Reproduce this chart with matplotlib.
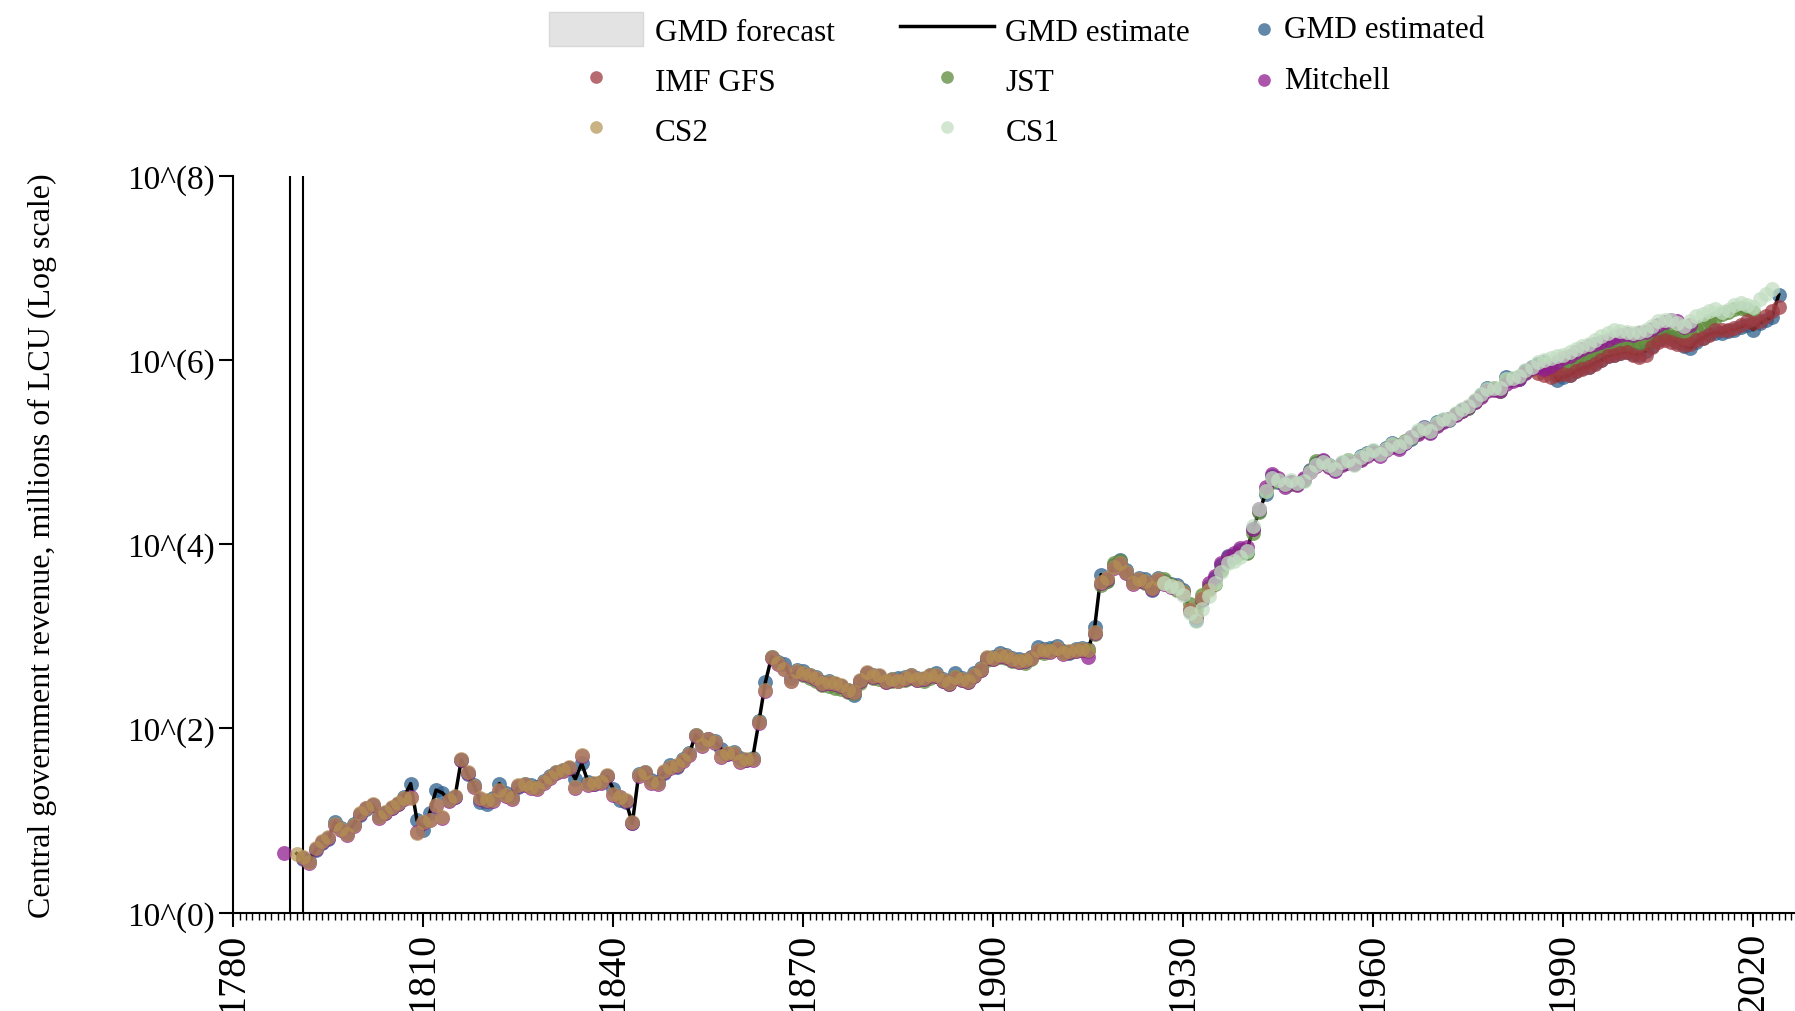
import numpy as np
import matplotlib
matplotlib.use("Agg")
import matplotlib.pyplot as plt
from matplotlib.patches import Patch
from matplotlib.ticker import NullLocator, MultipleLocator

plt.rcParams['font.family'] = ['Liberation Serif', 'DejaVu Serif']

# log10 of central government revenue (millions of LCU)
gmd_years = list(range(1790, 2025))
gmd_log = [
    0.64, 0.58, 0.56, 0.68, 0.76, 0.80, 0.98, 0.92, 0.86, 0.96,
    1.06, 1.12, 1.17, 1.05, 1.08, 1.14, 1.18, 1.26, 1.40, 1.00,
    0.90, 1.08, 1.33, 1.30, 1.22, 1.26, 1.66, 1.50, 1.38, 1.20,
    1.18, 1.24, 1.40, 1.30, 1.26, 1.36, 1.40, 1.38, 1.36, 1.43,
    1.48, 1.53, 1.55, 1.57, 1.45, 1.62, 1.42, 1.40, 1.42, 1.48,
    1.34, 1.22, 1.20, 0.97, 1.50, 1.53, 1.44, 1.42, 1.52, 1.60,
    1.58, 1.67, 1.73, 1.93, 1.84, 1.88, 1.86, 1.78, 1.72, 1.74,
    1.68, 1.66, 1.68, 2.08, 2.50, 2.78, 2.72, 2.70, 2.55, 2.63,
    2.62, 2.58, 2.56, 2.50, 2.52, 2.48, 2.46, 2.42, 2.36, 2.52,
    2.60, 2.58, 2.57, 2.52, 2.54, 2.55, 2.56, 2.58, 2.55, 2.54,
    2.58, 2.60, 2.54, 2.50, 2.60, 2.55, 2.52, 2.60, 2.66, 2.76,
    2.78, 2.82, 2.80, 2.76, 2.75, 2.74, 2.78, 2.88, 2.86, 2.87,
    2.89, 2.84, 2.82, 2.86, 2.87, 2.86, 3.10, 3.67, 3.60, 3.78,
    3.83, 3.72, 3.59, 3.63, 3.62, 3.50, 3.63, 3.60, 3.57, 3.56,
    3.50, 3.28, 3.18, 3.40, 3.52, 3.63, 3.78, 3.87, 3.88, 3.94,
    3.92, 4.17, 4.36, 4.55, 4.74, 4.68, 4.66, 4.68, 4.66, 4.70,
    4.81, 4.88, 4.90, 4.86, 4.81, 4.88, 4.90, 4.88, 4.96, 4.99,
    5.01, 4.98, 5.05, 5.10, 5.06, 5.10, 5.14, 5.22, 5.27, 5.22,
    5.33, 5.35, 5.35, 5.42, 5.46, 5.48, 5.56, 5.62, 5.70, 5.69,
    5.68, 5.82, 5.79, 5.80, 5.88, 5.92, 5.96, 5.98, 5.92, 5.78,
    5.82, 5.84, 5.88, 5.91, 5.93, 5.97, 6.00, 6.04, 6.06, 6.08,
    6.09, 6.07, 6.06, 6.10, 6.15, 6.22, 6.26, 6.24, 6.20, 6.15,
    6.13, 6.20, 6.24, 6.28, 6.30, 6.29, 6.32, 6.33, 6.36, 6.38,
    6.33, 6.40, 6.44, 6.47, 6.71,
]

est_years = gmd_years[1:]
est_log = gmd_log[1:]

cs2_years = list(range(1790, 1935))
cs2_log = [
    0.64, 0.60, 0.55, 0.70, 0.78, 0.82, 0.96, 0.91, 0.85, 0.95,
    1.08, 1.14, 1.18, 1.04, 1.09, 1.15, 1.19, 1.24, 1.24, 0.86,
    0.98, 1.00, 1.17, 1.04, 1.22, 1.27, 1.67, 1.53, 1.37, 1.24,
    1.22, 1.22, 1.33, 1.28, 1.24, 1.38, 1.40, 1.36, 1.35, 1.42,
    1.47, 1.53, 1.55, 1.58, 1.36, 1.71, 1.40, 1.41, 1.42, 1.49,
    1.29, 1.26, 1.22, 0.98, 1.49, 1.53, 1.42, 1.41, 1.54, 1.58,
    1.60, 1.66, 1.72, 1.93, 1.82, 1.89, 1.85, 1.70, 1.73, 1.73,
    1.65, 1.67, 1.67, 2.07, 2.42, 2.78, 2.71, 2.65, 2.52, 2.62,
    2.60, 2.58, 2.55, 2.49, 2.50, 2.49, 2.47, 2.42, 2.40, 2.53,
    2.61, 2.57, 2.58, 2.51, 2.54, 2.52, 2.55, 2.58, 2.54, 2.55,
    2.58, 2.58, 2.53, 2.49, 2.56, 2.54, 2.51, 2.58, 2.64, 2.78,
    2.76, 2.80, 2.79, 2.75, 2.73, 2.74, 2.77, 2.85, 2.85, 2.84,
    2.87, 2.82, 2.84, 2.85, 2.86, 2.85, 3.05, 3.59, 3.63, 3.75,
    3.80, 3.70, 3.58, 3.62, 3.60, 3.52, 3.62, 3.58, 3.55, 3.54,
    3.48, 3.30, 3.22, 3.42, 3.50,
]

mitchell_years = [1788] + list(range(1791, 2011))
mitchell_log = [
    0.65,
    0.59, 0.54, 0.69, 0.77, 0.81, 0.95, 0.90, 0.84, 0.94,
    1.07, 1.13, 1.17, 1.03, 1.08, 1.14, 1.18, 1.23, 1.25, 0.87,
    0.97, 1.01, 1.16, 1.03, 1.21, 1.26, 1.66, 1.52, 1.36, 1.23,
    1.21, 1.21, 1.32, 1.27, 1.23, 1.37, 1.39, 1.35, 1.34, 1.41,
    1.46, 1.52, 1.54, 1.57, 1.35, 1.70, 1.39, 1.40, 1.41, 1.48,
    1.28, 1.25, 1.21, 0.97, 1.48, 1.52, 1.41, 1.40, 1.53, 1.57,
    1.59, 1.65, 1.71, 1.92, 1.81, 1.88, 1.84, 1.69, 1.72, 1.72,
    1.64, 1.66, 1.66, 2.06, 2.41, 2.77, 2.70, 2.64, 2.51, 2.61,
    2.59, 2.57, 2.54, 2.48, 2.49, 2.48, 2.46, 2.41, 2.39, 2.52,
    2.60, 2.56, 2.57, 2.50, 2.53, 2.51, 2.54, 2.57, 2.53, 2.54,
    2.57, 2.57, 2.52, 2.48, 2.55, 2.53, 2.50, 2.57, 2.63, 2.77,
    2.75, 2.79, 2.78, 2.74, 2.72, 2.73, 2.76, 2.84, 2.84, 2.83,
    2.86, 2.81, 2.83, 2.84, 2.85, 2.78, 3.04, 3.58, 3.62, 3.74,
    3.79, 3.69, 3.57, 3.61, 3.59, 3.51, 3.61, 3.57, 3.54, 3.53,
    3.47, 3.29, 3.21, 3.41, 3.58, 3.66, 3.80, 3.86, 3.90, 3.96,
    3.97, 4.17, 4.38, 4.62, 4.76, 4.72, 4.62, 4.68, 4.64, 4.72,
    4.78, 4.85, 4.92, 4.84, 4.80, 4.86, 4.88, 4.87, 4.92, 4.96,
    4.99, 4.96, 5.02, 5.06, 5.04, 5.10, 5.16, 5.20, 5.26, 5.21,
    5.28, 5.33, 5.36, 5.40, 5.45, 5.49, 5.55, 5.60, 5.66, 5.68,
    5.66, 5.74, 5.77, 5.80, 5.86, 5.91, 5.93, 5.90, 5.94, 5.98,
    6.02, 6.05, 6.09, 6.12, 6.15, 6.18, 6.20, 6.22, 6.25, 6.27,
    6.28, 6.27, 6.29, 6.31, 6.34, 6.38, 6.41, 6.44, 6.42, 6.36,
    6.38,
]

jst_years = list(range(1870, 2021))
jst_log = [
    2.58, 2.55, 2.52, 2.47, 2.46, 2.44, 2.43, 2.40, 2.38, 2.49,
    2.57, 2.55, 2.54, 2.50, 2.51, 2.52, 2.53, 2.55, 2.53, 2.51,
    2.55, 2.57, 2.52, 2.48, 2.56, 2.53, 2.50, 2.57, 2.63, 2.74,
    2.75, 2.78, 2.77, 2.73, 2.72, 2.71, 2.75, 2.83, 2.82, 2.84,
    2.86, 2.83, 2.83, 2.84, 2.85, 2.84, 3.03, 3.56, 3.60, 3.80,
    3.82, 3.70, 3.60, 3.60, 3.58, 3.52, 3.58, 3.62, 3.56, 3.50,
    3.48, 3.35, 3.30, 3.45, 3.55, 3.57, 3.72, 3.82, 3.86, 3.90,
    3.90, 4.12, 4.35, 4.58, 4.68, 4.70, 4.64, 4.66, 4.65, 4.70,
    4.80, 4.90, 4.88, 4.85, 4.83, 4.87, 4.91, 4.89, 4.93, 4.98,
    5.00, 4.99, 5.03, 5.08, 5.08, 5.12, 5.15, 5.21, 5.24, 5.24,
    5.30, 5.34, 5.36, 5.41, 5.45, 5.48, 5.55, 5.61, 5.68, 5.70,
    5.67, 5.78, 5.80, 5.82, 5.86, 5.90, 5.94, 5.96, 5.90, 5.93,
    5.95, 5.97, 6.00, 6.03, 6.06, 6.09, 6.12, 6.14, 6.15, 6.16,
    6.17, 6.16, 6.16, 6.19, 6.22, 6.25, 6.27, 6.29, 6.28, 6.24,
    6.29, 6.34, 6.38, 6.42, 6.46, 6.50, 6.52, 6.55, 6.57, 6.56,
    6.52,
]

cs1_years = list(range(1927, 2024))
cs1_log = [
    3.58, 3.55, 3.52,
    3.45, 3.25, 3.17, 3.30, 3.44, 3.58, 3.70, 3.80, 3.82, 3.86,
    3.93, 4.20, 4.38, 4.58, 4.72, 4.70, 4.65, 4.70, 4.67, 4.69,
    4.79, 4.86, 4.89, 4.86, 4.82, 4.89, 4.91, 4.86, 4.95, 4.98,
    5.02, 4.98, 5.04, 5.09, 5.07, 5.11, 5.17, 5.24, 5.26, 5.23,
    5.32, 5.36, 5.36, 5.43, 5.47, 5.50, 5.57, 5.63, 5.69, 5.70,
    5.70, 5.80, 5.81, 5.83, 5.89, 5.93, 5.98, 6.00, 6.02, 6.04,
    6.06, 6.09, 6.12, 6.15, 6.18, 6.22, 6.26, 6.30, 6.33, 6.32,
    6.31, 6.30, 6.31, 6.33, 6.37, 6.42, 6.44, 6.44, 6.40, 6.37,
    6.42, 6.48, 6.50, 6.53, 6.55, 6.52, 6.54, 6.60, 6.62, 6.60,
    6.58, 6.66, 6.72, 6.77,
]

imf_years = list(range(1986, 2025))
imf_log = [
    5.86, 5.84, 5.82, 5.84,
    5.85, 5.84, 5.88, 5.90, 5.92, 5.96, 6.00, 6.04, 6.06, 6.08,
    6.09, 6.06, 6.03, 6.06, 6.14, 6.20, 6.22, 6.20, 6.18, 6.16,
    6.17, 6.22, 6.24, 6.27, 6.33, 6.33, 6.33, 6.35, 6.38, 6.42,
    6.40, 6.42, 6.48, 6.53, 6.58,
]

event_years = [1789, 1791]

c_est = '#2c5f8d'
c_imf = '#9e3a40'
c_jst = '#5e8a3a'
c_mit = '#8f1d8f'
c_cs2 = '#b39350'
c_cs1 = '#c3dec3'
dot = 115

fig = plt.figure(figsize=(17.95, 10.12), dpi=100)
ax = fig.add_axes([0.13, 0.0973, 0.8715, 0.7278])

for yr in event_years:
    ax.axvline(yr, color='black', lw=1.5, zorder=1)

sc_est = ax.scatter(est_years, 10 ** np.array(est_log), s=dot, color=c_est, alpha=0.75, linewidths=0, zorder=2, label='GMD estimated')
ln, = ax.plot(gmd_years, 10 ** np.array(gmd_log), color='black', lw=2.5, zorder=3, label='GMD estimate')
sc_jst = ax.scatter(jst_years, 10 ** np.array(jst_log), s=dot, color=c_jst, alpha=0.75, linewidths=0, zorder=4, label='JST')
sc_imf = ax.scatter(imf_years, 10 ** np.array(imf_log), s=dot, color=c_imf, alpha=0.75, linewidths=0, zorder=5, label='IMF GFS')
sc_mit = ax.scatter(mitchell_years, 10 ** np.array(mitchell_log), s=dot, color=c_mit, alpha=0.75, linewidths=0, zorder=6, label='Mitchell')
sc_cs2 = ax.scatter(cs2_years, 10 ** np.array(cs2_log), s=dot, color=c_cs2, alpha=0.7, linewidths=0, zorder=7, label='CS2')
sc_cs1 = ax.scatter(cs1_years, 10 ** np.array(cs1_log), s=dot, color=c_cs1, alpha=0.75, linewidths=0, zorder=8, label='CS1')

ax.set_yscale('log')
ax.set_ylim(1, 1e8)
ax.set_xlim(1780, 2027)
ax.set_yticks([1, 1e2, 1e4, 1e6, 1e8])
ax.set_yticklabels(['10^(0)', '10^(2)', '10^(4)', '10^(6)', '10^(8)'])
ax.yaxis.set_minor_locator(NullLocator())
ax.set_xticks(list(range(1780, 2021, 30)))
ax.xaxis.set_minor_locator(MultipleLocator(1))
ax.tick_params(axis='x', which='major', length=10, width=1.5, labelsize=29, labelrotation=90)
ax.tick_params(axis='x', which='minor', length=5, width=1)
ax.tick_params(axis='y', which='major', length=10, width=1.5, labelsize=24)

for side in ['top', 'right']:
    ax.spines[side].set_visible(False)
for side in ['left', 'bottom']:
    ax.spines[side].set_linewidth(1.5)

ax.set_ylabel('Central government revenue, millions of LCU (Log scale)', fontsize=23)
ax.yaxis.set_label_coords(-0.113, 0.5)

forecast = Patch(facecolor='#e3e3e3', edgecolor='#d8d8d8', label='GMD forecast')

leg1 = fig.legend([forecast, sc_imf, sc_cs2, ln, sc_jst, sc_cs1],
                  ['GMD forecast', 'IMF GFS', 'CS2', 'GMD estimate', 'JST', 'CS1'],
                  ncol=2, loc='upper left', bbox_to_anchor=(0.306, 0.987), frameon=False,
                  fontsize=22.5, handlelength=3.0, handleheight=1.3, handletextpad=0.37,
                  columnspacing=2.1, labelspacing=0.50, borderpad=0, borderaxespad=0,
                  scatterpoints=1, markerscale=0.85)
leg2 = fig.legend([sc_est, sc_mit], ['GMD estimated', 'Mitchell'],
                  ncol=1, loc='upper left', bbox_to_anchor=(0.699, 0.984), frameon=False,
                  fontsize=22.5, handlelength=0.6, handletextpad=0.35, labelspacing=0.70,
                  borderpad=0, borderaxespad=0, scatterpoints=1, markerscale=0.85)

fig.savefig('out.png', dpi=100)
